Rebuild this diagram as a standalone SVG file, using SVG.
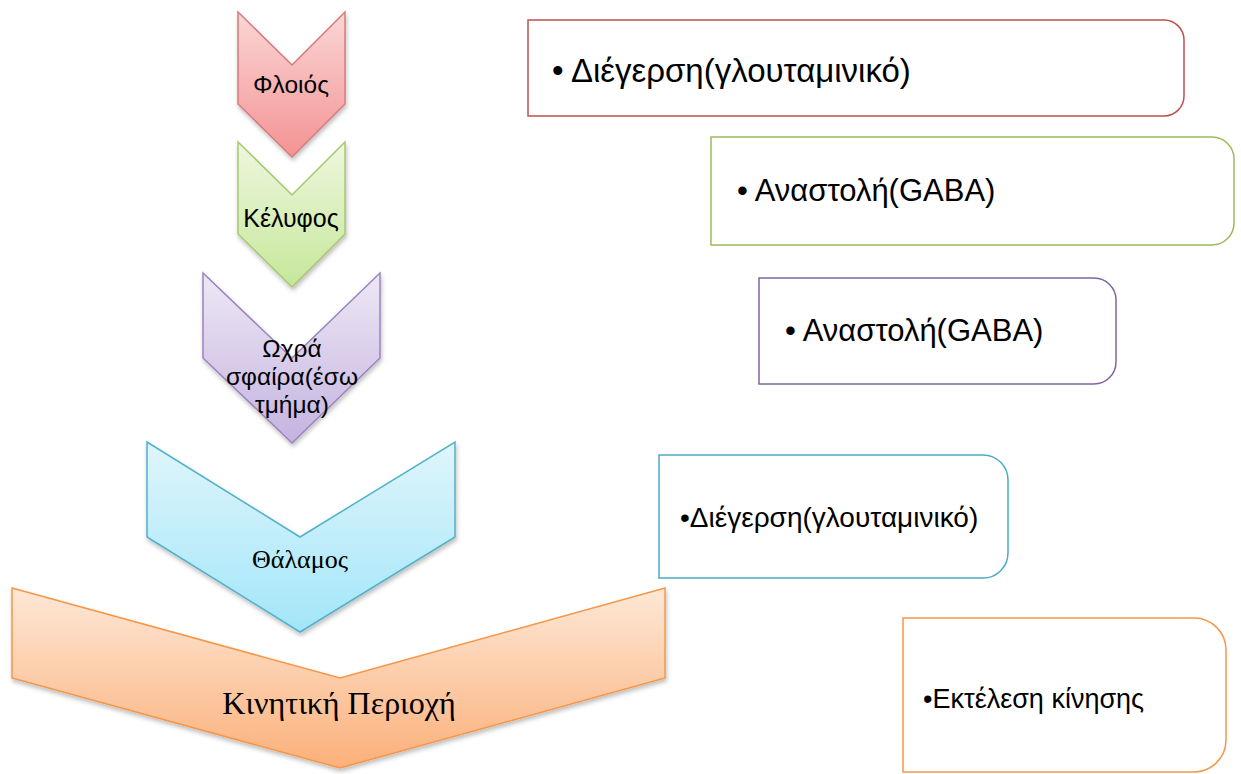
<svg xmlns="http://www.w3.org/2000/svg" width="1241" height="774" viewBox="0 0 1241 774">
<defs>
<linearGradient id="gRed" x1="0" y1="0" x2="0" y2="1"><stop offset="0" stop-color="#fbd6d6"/><stop offset="1" stop-color="#f39393"/></linearGradient>
<linearGradient id="gGreen" x1="0" y1="0" x2="0" y2="1"><stop offset="0" stop-color="#eef7df"/><stop offset="1" stop-color="#c6e79a"/></linearGradient>
<linearGradient id="gPurple" x1="0" y1="0" x2="0" y2="1"><stop offset="0" stop-color="#ede8f5"/><stop offset="1" stop-color="#c5b3e0"/></linearGradient>
<linearGradient id="gBlue" x1="0" y1="0" x2="0" y2="1"><stop offset="0" stop-color="#e0f5fb"/><stop offset="1" stop-color="#a2e6f9"/></linearGradient>
<linearGradient id="gOrange" x1="0" y1="0" x2="0" y2="1"><stop offset="0" stop-color="#fde8d7"/><stop offset="1" stop-color="#fbb07a"/></linearGradient>
<filter id="sh" x="-10%" y="-10%" width="120%" height="130%"><feDropShadow dx="1" dy="3" stdDeviation="2" flood-color="#000" flood-opacity="0.25"/></filter>
</defs>
<style>
.chev{stroke-width:1.5;filter:url(#sh)}
.box{fill:#fff;stroke-width:1.5}
.sans{font-family:"Liberation Sans","Noto Sans",sans-serif;fill:#000}
.serif{font-family:"Liberation Serif","DejaVu Serif",serif;fill:#000}
</style>
<rect width="1241" height="774" fill="#fff"/>
<g id="chevron-floios">
<path class="chev" d="M238,12 L292,65 L345,12 L345,104 L292,157 L238,104 Z" fill="url(#gRed)" stroke="#d87a7a"/>
<text class="sans" x="291" y="93" font-size="24.5" text-anchor="middle">Φλοιός</text>
</g>
<g id="chevron-kelyfos">
<path class="chev" d="M238,142 L292,195 L345,142 L345,234 L292,287 L238,234 Z" fill="url(#gGreen)" stroke="#a6c86e"/>
<text class="sans" x="291" y="227" font-size="25" text-anchor="middle">Κέλυφος</text>
</g>
<g id="chevron-ochra">
<path class="chev" d="M203,273 L292,358 L380,273 L380,358 L292,443 L203,358 Z" fill="url(#gPurple)" stroke="#9a84bf"/>
<text class="sans" font-size="24.5" text-anchor="middle"><tspan x="292" y="357">Ωχρά</tspan><tspan x="292" y="385">σφαίρα(έσω</tspan><tspan x="292" y="413">τμήμα)</tspan></text>
</g>
<g id="chevron-thalamos">
<path class="chev" d="M147,442 L300,537 L455,442 L455,537 L300,632 L147,537 Z" fill="url(#gBlue)" stroke="#52b1cc"/>
<text class="serif" x="300" y="568" font-size="26" text-anchor="middle">Θάλαμος</text>
</g>
<g id="chevron-kinitiki">
<path class="chev" d="M12,588 L340,678 L665,588 L665,678 L340,768 L12,678 Z" fill="url(#gOrange)" stroke="#f79646"/>
<text class="serif" x="339" y="714" font-size="32" text-anchor="middle">Κινητική Περιοχή</text>
</g>
<g id="box-1">
<path class="box" d="M528,20 H1164 A20,20 0 0 1 1184,40 V96 A20,20 0 0 1 1164,116 H528 Z" stroke="#c0504d"/>
<text class="sans" x="552" y="82" font-size="33">• Διέγερση(γλουταμινικό)</text>
</g>
<g id="box-2">
<path class="box" d="M711,137 H1212 A22,22 0 0 1 1234,159 V223 A22,22 0 0 1 1212,245 H711 Z" stroke="#9bbb59"/>
<text class="sans" x="737" y="201" font-size="31">• Αναστολή(GABA)</text>
</g>
<g id="box-3">
<path class="box" d="M759,278 H1094 A22,22 0 0 1 1116,300 V362 A22,22 0 0 1 1094,384 H759 Z" stroke="#8064a2"/>
<text class="sans" x="785" y="341" font-size="31">• Αναστολή(GABA)</text>
</g>
<g id="box-4">
<path class="box" d="M659,455 H983 A25,25 0 0 1 1008,480 V553 A25,25 0 0 1 983,578 H659 Z" stroke="#4bacc6"/>
<text class="sans" x="680" y="527" font-size="28">•Διέγερση(γλουταμινικό)</text>
</g>
<g id="box-5">
<path class="box" d="M903,618 H1194 A32,32 0 0 1 1226,650 V740 A32,32 0 0 1 1194,772 H903 Z" stroke="#f79646"/>
<text class="sans" x="923" y="708" font-size="27">•Εκτέλεση κίνησης</text>
</g>
</svg>
